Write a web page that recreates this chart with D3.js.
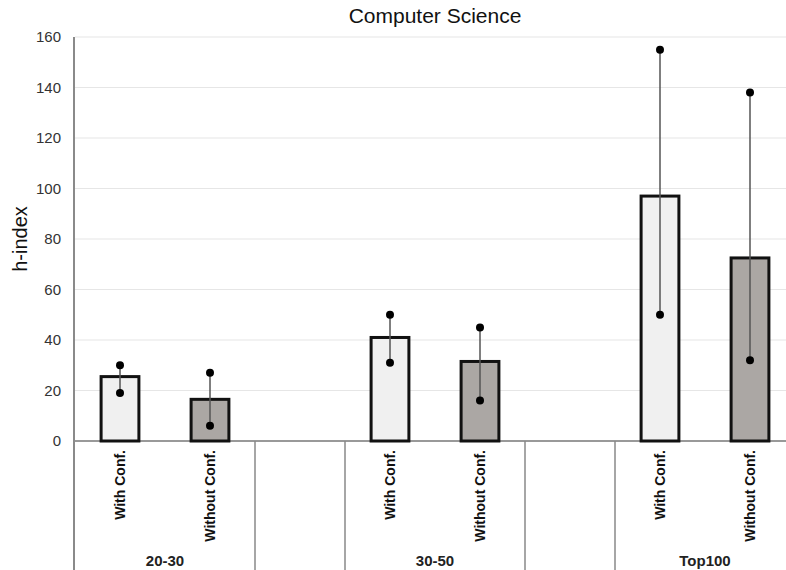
<!DOCTYPE html>
<html>
<head>
<meta charset="utf-8">
<script src="https://cdn.jsdelivr.net/npm/d3@7"></script>
<style>
  body { margin: 0; background: #fff; }
  svg { font-family: "Liberation Sans", Arial, sans-serif; }
</style>
</head>
<body>
<svg id="chart" width="786" height="570"></svg>
<script>
// datos
var grupos = ["20-30", "30-50", "Top100"];
var series = ["With Conf.", "Without Conf."];
var mediaCon = [25.5, 41, 97];
var mediaSin = [16.5, 31.5, 72.5];
var bajoCon = [19, 31, 50];
var altoCon = [30, 50, 155];
var bajoSin = [6, 16, 32];
var altoSin = [27, 45, 138];
var ticksY = [0, 20, 40, 60, 80, 100, 120, 140, 160];

var colorCon = "#f0f0f0";
var colorSin = "#aba7a4";

var svg = d3.select("#chart");
var x0 = 75, x1 = 795, yTop = 37, yBase = 441, h = 570;

// ranuras: dos barras por grupo y un hueco entre grupos
var ranuras = [];
grupos.forEach(function (g, i) {
    ranuras.push(g + "|0");
    ranuras.push(g + "|1");
    if (i < grupos.length - 1) ranuras.push("hueco" + i);
});

var x = d3.scaleBand().domain(ranuras).range([x0, x1]);
var y = d3.scaleLinear().domain([0, 160]).range([yBase, yTop]);

var barras = [];
grupos.forEach(function (g, i) {
    barras.push({ g: g, s: 0, v: mediaCon[i], lo: bajoCon[i], hi: altoCon[i] });
    barras.push({ g: g, s: 1, v: mediaSin[i], lo: bajoSin[i], hi: altoSin[i] });
});

// lineas de la rejilla
svg.append("g")
    .selectAll("line")
    .data(ticksY.slice(1))
    .enter()
    .append("line")
    .attr("x1", x0)
    .attr("x2", 786)
    .attr("y1", function (d) { return y(d); })
    .attr("y2", function (d) { return y(d); })
    .attr("stroke", "#e6e6e6")
    .attr("stroke-width", 1.2);

// eje y
var ejeY = svg.append("g")
    .attr("transform", "translate(" + (x0 - 1) + ",0)")
    .call(d3.axisLeft(y).tickValues(ticksY).tickSize(0).tickPadding(13));
ejeY.select(".domain").remove();
ejeY.selectAll("text")
    .attr("font-size", "15px")
    .attr("fill", "#333")
    .attr("font-family", "Liberation Sans, Arial, sans-serif");

svg.append("line")
    .attr("x1", x0 - 1).attr("x2", x0 - 1)
    .attr("y1", yTop).attr("y2", h)
    .attr("stroke", "#8a8a8a")
    .attr("stroke-width", 2);

// linea base
svg.append("line")
    .attr("x1", x0).attr("x2", 786)
    .attr("y1", yBase).attr("y2", yBase)
    .attr("stroke", "#777")
    .attr("stroke-width", 1.5);

// separadores bajo el eje
var seps = [];
ranuras.forEach(function (r) {
    if (r.indexOf("hueco") === 0) {
        seps.push(x(r));
        seps.push(x(r) + x.bandwidth());
    }
});
svg.append("g")
    .selectAll("line")
    .data(seps)
    .enter()
    .append("line")
    .attr("x1", function (d) { return d; })
    .attr("x2", function (d) { return d; })
    .attr("y1", yBase)
    .attr("y2", h)
    .attr("stroke", "#888")
    .attr("stroke-width", 1.5);

var anchoBarra = x.bandwidth() * 0.42;
function centro(d) { return x(d.g + "|" + d.s) + x.bandwidth() / 2; }

// barras
svg.append("g")
    .selectAll("rect")
    .data(barras)
    .enter()
    .append("rect")
    .attr("x", function (d) { return centro(d) - anchoBarra / 2; })
    .attr("y", function (d) { return y(d.v); })
    .attr("width", anchoBarra)
    .attr("height", function (d) { return yBase - y(d.v); })
    .attr("fill", function (d) { return d.s === 0 ? colorCon : colorSin; })
    .attr("stroke", "#111")
    .attr("stroke-width", 3);

// barras de error
var err = svg.append("g");
err.selectAll("line")
    .data(barras)
    .enter()
    .append("line")
    .attr("x1", centro).attr("x2", centro)
    .attr("y1", function (d) { return y(d.hi); })
    .attr("y2", function (d) { return y(d.lo); })
    .attr("stroke", "#555")
    .attr("stroke-width", 1.5);

var puntos = [];
barras.forEach(function (d) {
    puntos.push({ d: d, v: d.hi });
    puntos.push({ d: d, v: d.lo });
});
err.selectAll("circle")
    .data(puntos)
    .enter()
    .append("circle")
    .attr("cx", function (p) { return centro(p.d); })
    .attr("cy", function (p) { return y(p.v); })
    .attr("r", 4)
    .attr("fill", "#000");

// etiquetas de las series (giradas)
svg.append("g")
    .selectAll("text")
    .data(barras)
    .enter()
    .append("text")
    .attr("transform", function (d) {
        return "translate(" + (centro(d) + 5) + "," + (yBase + 9) + ") rotate(-90)";
    })
    .attr("text-anchor", "end")
    .attr("font-size", "14px")
    .attr("font-weight", "bold")
    .attr("fill", "#111")
    .text(function (d) { return series[d.s]; });

// etiquetas de los grupos
svg.append("g")
    .selectAll("text")
    .data(grupos)
    .enter()
    .append("text")
    .attr("x", function (g) { return (x(g + "|0") + x(g + "|1") + x.bandwidth()) / 2; })
    .attr("y", 566)
    .attr("text-anchor", "middle")
    .attr("font-size", "15px")
    .attr("font-weight", "bold")
    .attr("fill", "#222")
    .text(function (g) { return g; });

// titulo
svg.append("text")
    .attr("x", 435)
    .attr("y", 23)
    .attr("text-anchor", "middle")
    .attr("font-size", "21px")
    .attr("fill", "#111")
    .text("Computer Science");

// titulo del eje y
svg.append("text")
    .attr("transform", "translate(27," + ((yTop + yBase) / 2) + ") rotate(-90)")
    .attr("text-anchor", "middle")
    .attr("font-size", "20px")
    .attr("fill", "#111")
    .text("h-index");
</script>
</body>
</html>
